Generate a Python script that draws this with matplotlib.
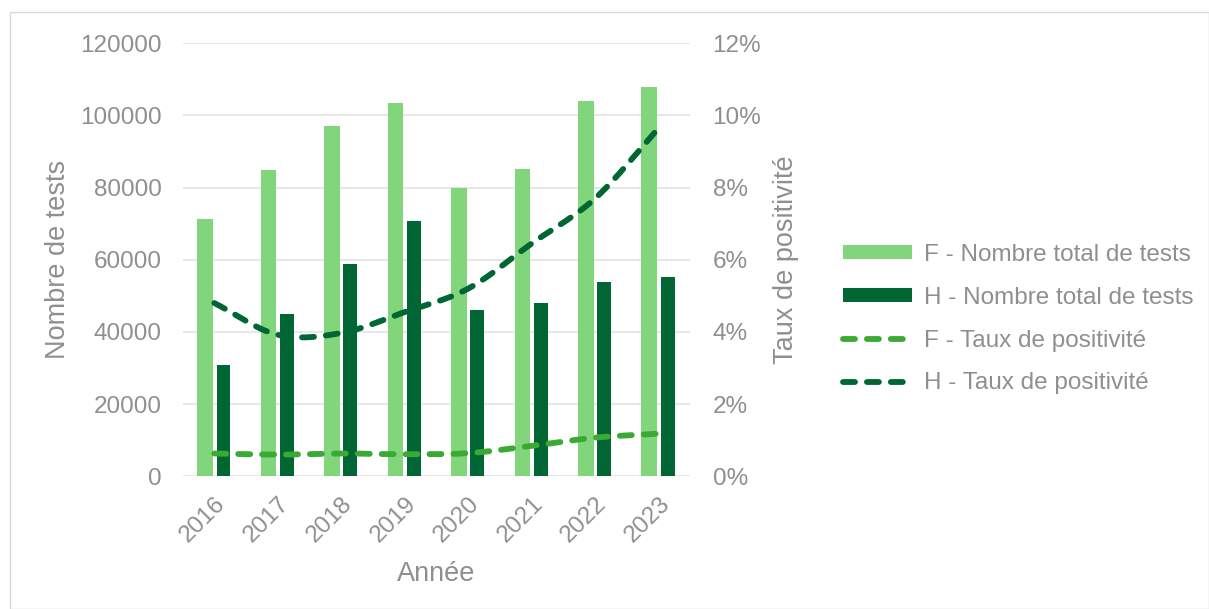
import numpy as np
import matplotlib
matplotlib.use('Agg')
import matplotlib.pyplot as plt
from matplotlib.patches import Rectangle

plt.rcParams['font.family'] = ['Liberation Sans', 'DejaVu Sans']

years = ['2016', '2017', '2018', '2019', '2020', '2021', '2022', '2023']
f_tests = [71400, 84900, 97200, 103300, 79900, 85200, 103900, 107800]
h_tests = [30900, 44900, 58900, 70600, 46100, 47900, 53800, 55100]
f_rate = [0.63, 0.60, 0.63, 0.61, 0.64, 0.84, 1.07, 1.18]
h_rate = [4.80, 3.92, 3.97, 4.55, 5.20, 6.45, 7.70, 9.65]

TXT = '#8f8f8f'
F_BAR = '#81d67b'
H_BAR = '#006633'
F_LINE = '#3aaa35'
H_LINE = '#006633'


def smooth(y, n=30):
    # Catmull-Rom curve through the points, like Excel's smoothed line
    y = np.asarray(y, dtype=float)
    x = np.arange(len(y), dtype=float)
    px = np.concatenate([[2 * x[0] - x[1]], x, [2 * x[-1] - x[-2]]])
    py = np.concatenate([[2 * y[0] - y[1]], y, [2 * y[-1] - y[-2]]])
    xs, ys = [], []
    t = np.linspace(0, 1, n, endpoint=False)
    for i in range(1, len(px) - 2):
        for arr, out in ((px, xs), (py, ys)):
            p0, p1, p2, p3 = arr[i - 1], arr[i], arr[i + 1], arr[i + 2]
            out.extend(0.5 * (2 * p1 + (-p0 + p2) * t
                              + (2 * p0 - 5 * p1 + 4 * p2 - p3) * t ** 2
                              + (-p0 + 3 * p1 - 3 * p2 + p3) * t ** 3))
    xs.append(x[-1])
    ys.append(y[-1])
    return np.array(xs), np.array(ys)


fig = plt.figure(figsize=(12.09, 6.09), dpi=100)
fig.patches.append(Rectangle((0.008, 0.0), 0.992, 0.98, transform=fig.transFigure,
                             fill=False, edgecolor='#d9d9d9', linewidth=1))
ax = fig.add_axes([0.151, 0.218, 0.42, 0.711])
ax2 = ax.twinx()

x = np.arange(len(years))
ax.bar(x - 0.145, f_tests, width=0.25, color=F_BAR, label='F - Nombre total de tests', zorder=2)
ax.bar(x + 0.145, h_tests, width=0.22, color=H_BAR, label='H - Nombre total de tests', zorder=2)

sx, sy = smooth(f_rate)
ax2.plot(sx, sy, color=F_LINE, lw=4.2, dashes=(2.05, 2.05), dash_capstyle='round',
         label='F - Taux de positivité')
sx, sy = smooth(h_rate)
ax2.plot(sx, sy, color=H_LINE, lw=4.2, dashes=(2.05, 2.05), dash_capstyle='round',
         label='H - Taux de positivité')

ax.set_xlim(-0.5, len(years) - 0.5)
ax.set_ylim(0, 120000)
ax.set_yticks(np.arange(0, 120001, 20000))
ax2.set_ylim(0, 12)
ax2.set_yticks(np.arange(0, 13, 2))
ax2.set_yticklabels([f'{v}%' for v in range(0, 13, 2)])

ax.set_xticks(x)
ax.set_xticklabels(years, rotation=45, ha='right', rotation_mode='anchor')
ax.yaxis.grid(True, color='#e3e3e3', linewidth=1.2, zorder=0)
ax.set_axisbelow(True)

for a in (ax, ax2):
    for s in a.spines.values():
        s.set_visible(False)
    a.tick_params(length=0, labelsize=17.5, labelcolor=TXT)
ax.tick_params(axis='y', pad=15)
ax2.tick_params(axis='y', pad=16)
ax.tick_params(axis='x', pad=12)

ax.set_xlabel('Année', fontsize=19.5, color=TXT)
ax.set_ylabel('Nombre de tests', fontsize=19.5, color=TXT)
ax2.set_ylabel('Taux de positivité', fontsize=19.5, color=TXT)
ax.yaxis.set_label_coords(-0.220, 0.5)
ax2.yaxis.set_label_coords(1.162, 0.5)
ax.xaxis.set_label_coords(0.5, -0.195)

h1, l1 = ax.get_legend_handles_labels()
h2, l2 = ax2.get_legend_handles_labels()
leg = fig.legend(h1 + h2, l1 + l2, loc='center left', bbox_to_anchor=(0.679, 0.476),
                 frameon=False, fontsize=17.5, labelcolor=TXT, handlelength=2.84,
                 handleheight=0.55, labelspacing=0.86, handletextpad=0.5)

fig.savefig('out.png', dpi=100)
